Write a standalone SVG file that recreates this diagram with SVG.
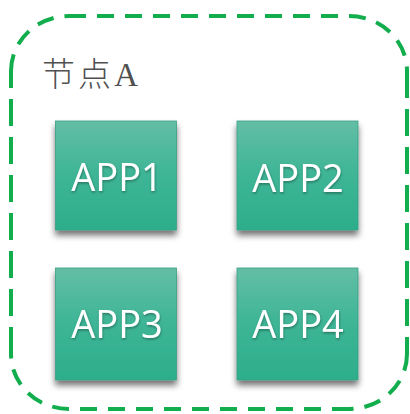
<svg xmlns="http://www.w3.org/2000/svg" width="410" height="414" viewBox="0 0 410 414">
  <style>
    .border { fill: none; stroke: #12ad4c; stroke-width: 4; }
    .h { stroke-dasharray: 17 11; }
    .v { stroke-dasharray: 27 11; }
    .app rect { fill: url(#g); stroke: #3a9e84; stroke-width: 0.8; filter: url(#sh); }
    .app text { font-family: "Open Sans", "Liberation Sans", sans-serif; font-size: 38px; fill: #ffffff; text-anchor: middle; filter: url(#ts); }
    .title { font-family: "Liberation Serif", "Noto Sans CJK SC", serif; font-size: 33px; fill: #505050; font-weight: 300; }
  </style>
  <defs>
    <linearGradient id="g" x1="0" y1="0" x2="0" y2="1">
      <stop offset="0" stop-color="#63bea5"/>
      <stop offset="0.5" stop-color="#3db596"/>
      <stop offset="1" stop-color="#2dae8b"/>
    </linearGradient>
    <filter id="sh" x="-20%" y="-20%" width="140%" height="150%">
      <feDropShadow dx="0" dy="5" stdDeviation="3" flood-color="#000" flood-opacity="0.55"/>
    </filter>
    <filter id="ts" x="-20%" y="-20%" width="140%" height="150%">
      <feDropShadow dx="0.5" dy="1.5" stdDeviation="0.8" flood-color="#000" flood-opacity="0.35"/>
    </filter>
  </defs>
  <g id="frame">
    <path class="border h" d="M 69 16 H 349"/>
    <path class="border v" d="M 407 71 V 354"/>
    <path class="border h" d="M 349 409 H 69"/>
    <path class="border v" d="M 11 354 V 71"/>
    <path class="border h" d="M 11 71 A 58 55 0 0 1 69 16"/>
    <path class="border h" d="M 349 16 A 58 55 0 0 1 407 71"/>
    <path class="border h" d="M 407 354 A 58 55 0 0 1 349 409"/>
    <path class="border h" d="M 69 409 A 58 55 0 0 1 11 354"/>
    <text class="title" x="42" y="86" textLength="96" lengthAdjust="spacing">节点A</text>
  </g>
  <g id="app1" class="app">
    <rect x="55.5" y="121" width="121" height="109"/>
    <text x="117" y="191">APP1</text>
  </g>
  <g id="app2" class="app">
    <rect x="237" y="121" width="121" height="109"/>
    <text x="298" y="192">APP2</text>
  </g>
  <g id="app3" class="app">
    <rect x="55.5" y="268" width="121" height="112"/>
    <text x="117" y="338">APP3</text>
  </g>
  <g id="app4" class="app">
    <rect x="237" y="268" width="121" height="112"/>
    <text x="298" y="338">APP4</text>
  </g>
  <g id="connectors"/>
</svg>
